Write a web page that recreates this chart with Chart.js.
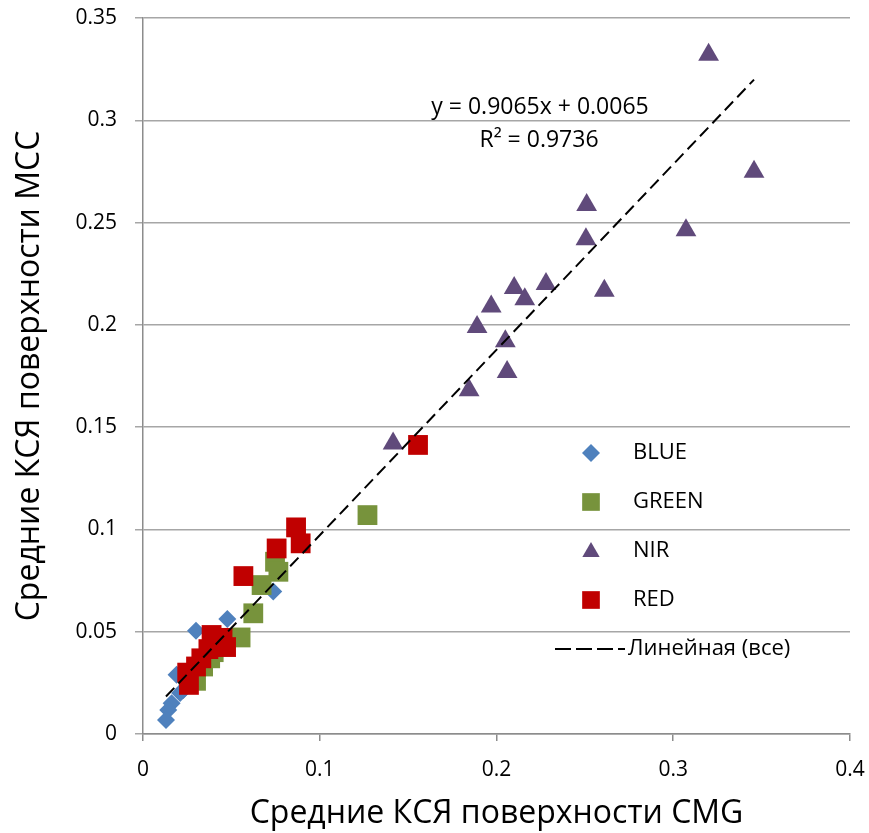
<!DOCTYPE html>
<html>
<head>
<meta charset="utf-8">
<script src="https://cdn.jsdelivr.net/npm/chart.js@4"></script>
<style>
  body { margin: 0; background: #fff; }
  #wrap { width: 869px; height: 833px; }
</style>
</head>
<body>
<div id="wrap"><canvas id="myChart" width="869" height="833"></canvas></div>
<script>
// values (x = CMG, y = MCC)
const blueX = [0.0737, 0.0477, 0.030, 0.019, 0.021, 0.0228, 0.0162, 0.0143, 0.013, 0.025, 0.035];
const blueY = [0.0696, 0.0562, 0.0505, 0.029, 0.020, 0.0215, 0.015, 0.0117, 0.0068, 0.024, 0.035];

const greenX = [0.127, 0.0747, 0.0766, 0.0671, 0.0624, 0.0552, 0.040, 0.038, 0.034, 0.030, 0.028];
const greenY = [0.107, 0.0842, 0.0793, 0.0728, 0.059, 0.0472, 0.040, 0.037, 0.033, 0.026, 0.028];

const nirX = [0.1415, 0.1845, 0.206, 0.205, 0.189, 0.197, 0.210, 0.216, 0.228, 0.261, 0.2506, 0.251, 0.3072, 0.3457, 0.320];
const nirY = [0.142, 0.168, 0.177, 0.192, 0.199, 0.209, 0.218, 0.2125, 0.220, 0.2167, 0.2418, 0.2586, 0.2463, 0.2748, 0.332];

const redX = [0.0866, 0.0892, 0.0756, 0.0568, 0.1556, 0.0388, 0.045, 0.047, 0.037, 0.033, 0.030, 0.025, 0.026];
const redY = [0.101, 0.0932, 0.0907, 0.0772, 0.1413, 0.0484, 0.047, 0.0425, 0.0415, 0.037, 0.033, 0.030, 0.024];

// trend line end points (y = 0.9065x + 0.0065)
const trendX = [0.013, 0.3457];
const trendY = [0.0183, 0.3199];

const xTicks = [0, 0.1, 0.2, 0.3, 0.4];
const yTicks = [0, 0.05, 0.1, 0.15, 0.2, 0.25, 0.3, 0.35];

const eqText = 'y = 0.9065x + 0.0065';
const r2Text = 'R² = 0.9736';

const FONT = "'Open Sans', 'Noto Sans', sans-serif";

function pts(xs, ys) {
  return xs.map(function (x, i) { return { x: x, y: ys[i] }; });
}

const legendItems = [
  { label: 'BLUE', style: 'rectRot', color: '#4F81BD' },
  { label: 'GREEN', style: 'rect', color: '#77933C' },
  { label: 'NIR', style: 'triangle', color: '#604A7B' },
  { label: 'RED', style: 'rect', color: '#C00000' },
  { label: 'Линейная (все)', style: 'line', color: '#000' }
];

// legend and equation drawn inside the plot area
const overlay = {
  id: 'overlay',
  afterDraw(chart) {
    const ctx = chart.ctx;
    ctx.save();
    ctx.font = '23px ' + FONT;
    ctx.fillStyle = '#000';
    ctx.textBaseline = 'middle';
    ctx.textAlign = 'center';
    ctx.fillText(eqText, 540, 107);
    ctx.fillText(r2Text, 539, 140);

    ctx.font = '22px ' + FONT;
    ctx.textAlign = 'left';
    legendItems.forEach(function (it, i) {
      const y = 453 + i * 49;
      if (it.style === 'line') {
        ctx.strokeStyle = '#000';
        ctx.lineWidth = 2;
        ctx.setLineDash([16, 5]);
        ctx.beginPath();
        ctx.moveTo(555, y);
        ctx.lineTo(625, y);
        ctx.stroke();
        ctx.setLineDash([]);
        ctx.fillText(it.label, 628, y);
      } else {
        const r = it.style === 'rectRot' ? 9 : (it.style === 'triangle' ? 10 : 12.5);
        ctx.fillStyle = it.color;
        Chart.helpers.drawPoint(ctx, { pointStyle: it.style, radius: r, borderWidth: 0 }, 591, it.style === 'triangle' ? y + 1 : y);
        ctx.fillStyle = '#000';
        ctx.fillText(it.label, 633, y);
      }
    });
    ctx.restore();
  }
};

const config = {
  type: 'scatter',
  data: {
    datasets: [
      {
        type: 'line',
        label: 'Линейная (все)',
        data: pts(trendX, trendY),
        borderColor: '#000',
        borderWidth: 2,
        borderDash: [12, 6],
        pointRadius: 0,
        fill: false,
        order: 0
      },
      {
        label: 'RED',
        data: pts(redX, redY),
        pointStyle: 'rect',
        pointRadius: 14,
        backgroundColor: '#C00000',
        borderWidth: 0,
        order: 1
      },
      {
        label: 'NIR',
        data: pts(nirX, nirY),
        pointStyle: 'triangle',
        pointRadius: 12,
        backgroundColor: '#604A7B',
        borderWidth: 0,
        order: 2
      },
      {
        label: 'GREEN',
        data: pts(greenX, greenY),
        pointStyle: 'rect',
        pointRadius: 14,
        backgroundColor: '#77933C',
        borderWidth: 0,
        order: 3
      },
      {
        label: 'BLUE',
        data: pts(blueX, blueY),
        pointStyle: 'rectRot',
        pointRadius: 9,
        backgroundColor: '#4F81BD',
        borderWidth: 0,
        order: 4
      }
    ]
  },
  options: {
    responsive: false,
    animation: false,
    layout: { padding: { top: 18, right: 19, left: 0, bottom: 0 } },
    plugins: {
      legend: { display: false },
      tooltip: { enabled: false }
    },
    scales: {
      x: {
        type: 'linear',
        min: 0,
        max: 0.4,
        afterBuildTicks(scale) { scale.ticks = xTicks.map(function (v) { return { value: v }; }); },
        afterFit(scale) {
          scale.height = 99;
          scale.paddingLeft = 0;
          scale.paddingRight = 0;
        },
        ticks: {
          font: { size: 21, family: FONT },
          color: '#000',
          padding: 16,
          maxRotation: 0,
          callback: function (v) { return String(parseFloat(v.toFixed(2))); }
        },
        grid: { drawOnChartArea: false, tickLength: 7, color: '#8c8c8c', lineWidth: 1.5 },
        border: { color: '#8c8c8c', width: 1.5 },
        title: {
          display: true,
          text: 'Средние КСЯ поверхности CMG',
          font: { size: 32, family: FONT },
          color: '#000',
          padding: { top: 0, bottom: 0 }
        }
      },
      y: {
        type: 'linear',
        min: 0,
        max: 0.35,
        afterBuildTicks(scale) { scale.ticks = yTicks.map(function (v) { return { value: v }; }); },
        afterFit(scale) {
          scale.width = 143;
          scale.paddingTop = 0;
          scale.paddingBottom = 0;
        },
        ticks: {
          font: { size: 21, family: FONT },
          color: '#000',
          padding: 18,
          callback: function (v) { return String(parseFloat(v.toFixed(2))); }
        },
        grid: { color: '#a6a6a6', lineWidth: 1.5, tickLength: 8 },
        border: { color: '#8c8c8c', width: 1.5 },
        title: {
          display: true,
          text: 'Средние КСЯ поверхности MCC',
          font: { size: 32, family: FONT },
          color: '#000',
          padding: { top: 11, bottom: 0 }
        }
      }
    }
  },
  plugins: [overlay]
};

const myChart = new Chart(document.getElementById('myChart'), config);
</script>
</body>
</html>
